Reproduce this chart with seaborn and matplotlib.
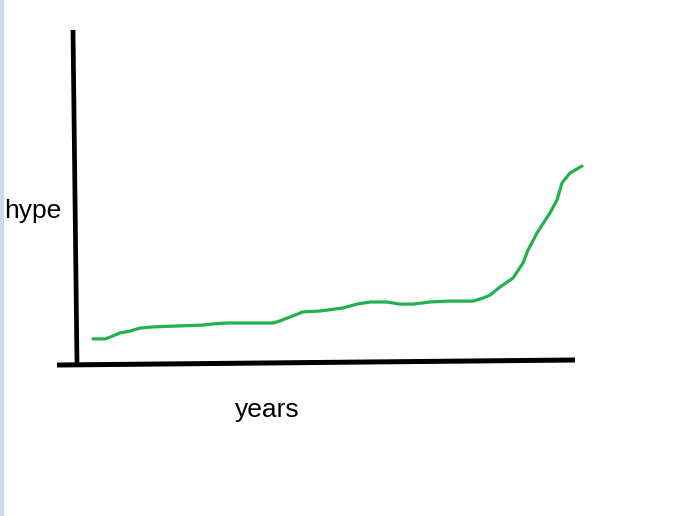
import matplotlib
matplotlib.use("Agg")
import matplotlib.pyplot as plt
import seaborn as sns
from matplotlib.patches import Rectangle

# hand drawn hype curve, units: years along x, hype along y
years = [0.36, 0.6, 0.7, 0.9, 1.1, 1.3, 1.56, 2.04, 2.56, 2.76, 3.04, 3.96,
         4.1, 4.3, 4.56, 4.9, 5.36, 5.64, 5.9, 6.24, 6.5, 6.76, 7.1, 7.44,
         7.96, 8.16, 8.3, 8.5, 8.76, 8.96, 9.06, 9.24, 9.5, 9.64, 9.74, 9.9, 10.14]
hype = [0.77, 0.77, 0.83, 0.97, 1.03, 1.13, 1.17, 1.2, 1.23, 1.27, 1.3, 1.3,
        1.37, 1.5, 1.67, 1.7, 1.8, 1.93, 2.0, 2.0, 1.93, 1.93, 2.0, 2.03,
        2.03, 2.13, 2.23, 2.5, 2.8, 3.3, 3.73, 4.3, 4.97, 5.4, 5.97, 6.3, 6.53]

# the two sketched axis strokes (slightly tilted)
yaxis_x = [-0.04, 0.04]
yaxis_y = [11.07, -0.07]
xaxis_x = [-0.36, 10.0]
xaxis_y = [-0.1, 0.067]

sns.set_style("white")
plt.rcParams["font.family"] = ["Liberation Sans", "DejaVu Sans"]

fig = plt.figure(figsize=(6.99, 5.16), dpi=100)
ax = fig.add_axes([0, 0, 1, 1])
ax.set_xlim(-1.5, 12.48)
ax.set_ylim(-5.133, 12.067)
ax.axis("off")

# thin bluish strip on the left edge of the screenshot
fig.patches.append(Rectangle((0, 0), 2.5 / 699, 1, transform=fig.transFigure,
                             color="#cfd9e8", zorder=0))

ax.plot(yaxis_x, yaxis_y, color="black", lw=3.4, solid_capstyle="butt")
ax.plot(xaxis_x, xaxis_y, color="black", lw=3.6, solid_capstyle="butt")

sns.lineplot(x=years, y=hype, ax=ax, color="#22b14c", linewidth=2.3, sort=False)

ax.text(-1.42, 4.8, "hype", fontsize=19, color="black", va="baseline", ha="left")
ax.text(3.2, -1.833, "years", fontsize=19, color="black", va="baseline", ha="left")

fig.savefig("out.png", dpi=100)
